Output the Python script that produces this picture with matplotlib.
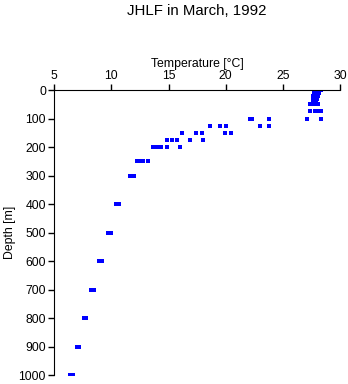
import matplotlib
matplotlib.use("Agg")
import matplotlib.pyplot as plt
import numpy as np

plt.rcParams['font.family'] = ['Liberation Sans', 'DejaVu Sans']

# depth [m] and temperature [C]
depth = [0, 0, 0, 5, 5, 5, 10, 10, 10, 15, 15, 15, 20, 20, 20, 25, 25, 25, 30, 30, 30, 35, 35, 40, 40,
         50, 50, 50, 50,
         75, 75, 75, 75, 75,
         100, 100, 100, 100, 100, 100,
         125, 125, 125, 125, 125,
         150, 150, 150, 150, 150,
         175, 175, 175, 175, 175,
         200, 200, 200, 200, 200, 200,
         250, 250, 250, 250,
         300, 300, 300,
         400, 400, 500, 500, 600, 600, 700, 700, 800, 800, 900, 900, 1000, 1000]
temp = [27.8, 28.0, 28.3, 27.8, 28.0, 28.2, 27.7, 28.0, 28.2, 27.7, 27.9, 28.1, 27.6, 27.9, 28.1,
        27.6, 27.8, 28.0, 27.6, 27.8, 28.0, 27.6, 27.9, 27.6, 27.9,
        27.4, 27.6, 27.9, 28.1,
        27.4, 27.8, 28.0, 28.1, 28.3,
        22.1, 22.3, 23.8, 27.1, 28.3, 22.2,
        18.6, 19.5, 20.0, 23.0, 23.8,
        16.2, 17.4, 17.9, 19.9, 20.5,
        14.85, 15.3, 15.7, 16.9, 18.0,
        13.6, 13.9, 14.1, 14.3, 14.9, 16.0,
        12.2, 12.5, 12.8, 13.2,
        11.6, 11.8, 12.0,
        10.4, 10.7, 9.7, 10.0, 8.9, 9.2, 8.2, 8.5, 7.6, 7.8, 7.0, 7.2, 6.4, 6.6]

fig = plt.figure(figsize=(3.48, 3.84), dpi=100)
ax = fig.add_axes([0.156, 0.0234, 0.821, 0.742])

ax.plot(temp, depth, linestyle='none', marker='s', markersize=2.6,
        color='#0000ff', markeredgewidth=0)

ax.set_xlim(5, 30)
ax.set_ylim(1000, 0)
ax.set_xticks(np.arange(5, 31, 5))
ax.set_yticks(np.arange(0, 1001, 100))
ax.xaxis.tick_top()
ax.xaxis.set_label_position('top')
ax.spines['right'].set_visible(False)
ax.spines['bottom'].set_visible(False)
ax.tick_params(direction='out', length=4, width=1, labelsize=8.8, pad=2)
ax.set_xlabel("Temperature [°C]", fontsize=8.8, labelpad=2)
ax.set_ylabel("Depth [m]", fontsize=8.8, labelpad=2)

fig.text(0.566, 0.972, "JHLF in March, 1992", ha='center', va='center', fontsize=10.8)

fig.savefig("out.png", dpi=100)
